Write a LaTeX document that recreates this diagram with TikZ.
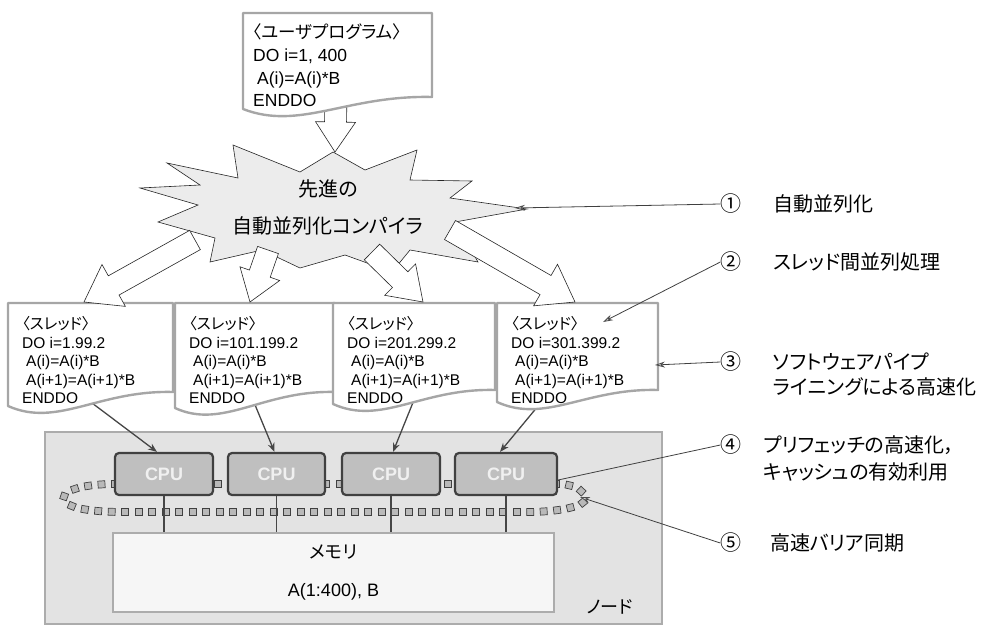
\documentclass[tikz,border=0pt]{standalone}
\usepackage{fontspec}
\setmainfont{Liberation Sans}
\newfontfamily\jp[RawFeature=+palt]{Noto Sans CJK JP}
\usetikzlibrary{arrows.meta,calc,decorations.markings}

\newcommand{\docpath}[5]{%
  \draw[doc] (#1,#3) -- (#2,#3) -- (#2,#5) .. controls ({#1+0.55*(#2-#1)},{#5-2}) and ({#1+0.3*(#2-#1)},{#4+22}) .. (#1,#4) -- cycle;}

\newcommand{\blockarrow}[5]{%
  \coordinate (bah) at ($(#2)!#5!(#1)$);
  \draw[barrow] ($(#1)!#3!90:(#2)$) -- ($(bah)!#3!90:(#2)$) -- ($(bah)!#4!90:(#2)$) -- (#2) -- ($(bah)!#4!-90:(#2)$) -- ($(bah)!#3!-90:(#2)$) -- ($(#1)!#3!-90:(#2)$) -- cycle;}

\newcommand{\threadtext}[3]{%
  \node[code] (#1a) at (#2,329) {\jp〈スレッド〉};
  \node[code] (#1b) at (#2,348) {DO i=#3};
  \node[code] (#1c) at (#2,366.5) {\hspace{4pt}A(i)=A(i)*B};
  \node[code] (#1d) at (#2,385) {\hspace{4pt}A(i+1)=A(i+1)*B};
  \node[code] (#1e) at (#2,403) {ENDDO};}

\begin{document}
\begin{tikzpicture}[x=1pt,y=-1pt,
  doc/.style={draw=gray!70, line width=2.4pt, fill=white, line join=round},
  barrow/.style={draw=black!85, line width=0.6pt, fill=white, line join=miter},
  code/.style={anchor=base west, inner sep=0pt, font=\fontsize{15.5}{18}\selectfont},
  ucode/.style={anchor=base west, inner sep=0pt, font=\fontsize{17.5}{20}\selectfont},
  lbl/.style={anchor=west, inner sep=0pt, font=\jp\fontsize{20}{25}\selectfont},
  num/.style={inner sep=0pt, font=\jp\fontsize{21}{21}\selectfont},
  conn/.style={draw=gray!55!black, line width=1.3pt, -{Stealth[length=9pt,width=7pt,fill=gray!40]}},
  ann/.style={draw=black!75, line width=0.8pt, -{Stealth[length=10pt,width=6pt,fill=gray!35,color=black!70]}},
  plain/.style={draw=black!75, line width=0.8pt},
  cpubox/.style={draw=gray!50!black, line width=2.2pt, fill=gray!50, rounded corners=4pt, minimum height=42pt, inner sep=0pt, font=\fontsize{18}{18}\selectfont\bfseries, text=gray!12},
  membox/.style={draw=gray!65, line width=2pt, fill=gray!7, minimum width=441pt, minimum height=79pt, inner sep=0pt},
  nodebox/.style={draw=gray!65, line width=2.5pt, fill=gray!22, minimum width=617pt, minimum height=192pt, inner sep=0pt},
  vline/.style={draw=gray!55!black, line width=1.3pt},
  ring/.style={decoration={markings, mark=between positions 0 and 0.999 step 13.5pt with {\draw[fill=gray!55, draw=black!75, line width=0.7pt] (-3.5pt,-3.5pt) rectangle (3.5pt,3.5pt);}}, decorate},
  starfill/.style={draw=black!85, line width=0.6pt, fill=gray!15, line join=miter}
]
\useasboundingbox (0,0) rectangle (992,624);

% ---------- node (hardware) ----------
\node[nodebox] (nodebox) at (353.5,528) {};
\path[ring] (115,484) .. controls (85,484) and (62,490) .. (64,499) .. controls (66,508) and (90,512) .. (125,512) -- (525,512) .. controls (565,512) and (588,505) .. (585,497) .. controls (582,488) and (570,484) .. (557,484) -- cycle;
\node[membox] (mem) at (333.5,572.5) {};
\node[font=\jp\fontsize{18}{18}\selectfont] (memt) at (333.5,552) {メモリ};
\node[font=\fontsize{18}{18}\selectfont] (mema) at (333.5,592) {A(1:400), B};
\node[cpubox, minimum width=98pt] (cpu1) at (164,474) {CPU};
\node[cpubox, minimum width=97pt] (cpu2) at (276.5,474) {CPU};
\node[cpubox, minimum width=98pt] (cpu3) at (391,474) {CPU};
\node[cpubox, minimum width=102pt] (cpu4) at (506,474) {CPU};
\foreach \c in {cpu1,cpu2,cpu3,cpu4}{\draw[vline] (\c.south) -- (\c.south |- mem.north);}
\node[font=\jp\fontsize{18}{18}\selectfont] (nodelbl) at (610,607) {ノード};

% ---------- connectors thread -> CPU ----------
\coordinate (t1b) at (88,400);
\coordinate (t2b) at (253,400);
\coordinate (t3b) at (414,400);
\coordinate (t4b) at (548,394);
\draw[conn] (t1b) -- ([xshift=-7pt]cpu1.north);
\draw[conn] (t2b) -- ([xshift=-2pt]cpu2.north);
\draw[conn] (t3b) -- ([xshift=2pt]cpu3.north);
\draw[conn] (t4b) -- ([xshift=-6pt]cpu4.north);

% ---------- thread documents ----------
\docpath{8}{173}{303}{406}{392}
\threadtext{ta}{22}{1.99.2}
\docpath{175}{335}{303}{408}{392}
\threadtext{tb}{189}{101.199.2}
\docpath{333}{495}{303}{404}{390}
\threadtext{tc}{347}{201.299.2}
\docpath{497}{658}{303}{402}{390}
\threadtext{td}{511}{301.399.2}

% ---------- compiler star ----------
\draw[starfill] (167,163) -- (238,178) -- (233,145) -- (300,172) -- (333,152) -- (365,170) -- (417,150) -- (410,180) -- (472,181) -- (450,198) -- (527,209) -- (455,222) -- (478,262) -- (410,250) -- (392,272) -- (345,255) -- (300,268) -- (262,250) -- (210,262) -- (215,238) -- (158,222) -- (198,205) -- (140,188) -- (200,185) -- cycle;
\node[align=center, font=\jp\fontsize{20}{37}\selectfont, inner sep=0pt] (comp) at (328,207) {先進の\\自動並列化コンパイラ};
\coordinate (starR) at (515,208);
\coordinate (startop) at (335,152);

% block arrows star -> threads
\coordinate (a1s) at (195,240); \coordinate (a1e) at (84,302);
\coordinate (a2s) at (268,250); \coordinate (a2e) at (250,302);
\coordinate (a3s) at (372,252); \coordinate (a3e) at (423,302);
\coordinate (a4s) at (450,230); \coordinate (a4e) at (575,302);
\blockarrow{a1s}{a1e}{11pt}{24pt}{34pt}
\blockarrow{a2s}{a2e}{11pt}{21pt}{30pt}
\blockarrow{a3s}{a3e}{11pt}{22pt}{32pt}
\blockarrow{a4s}{a4e}{11pt}{24pt}{34pt}

% ---------- user program ----------
\coordinate (docbot) at (336,95);
\blockarrow{docbot}{startop}{11pt}{20pt}{30pt}
\docpath{243}{432}{13}{109}{97}
\node[ucode] (u1) at (253,38) {\jp〈ユーザプログラム〉};
\node[ucode] (u2) at (253,61) {DO i=1, 400};
\node[ucode] (u3) at (253,84) {\hspace{4pt}A(i)=A(i)*B};
\node[ucode] (u4) at (253,106) {ENDDO};

% ---------- annotations ----------
\coordinate (tdR) at (655,365);
\coordinate (tdH) at (603,322);
\node[num] (n1) at (731,204) {①};
\node[lbl] (l1) at (773,204) {自動並列化};
\draw[ann] (n1.west) -- (starR);

\node[num] (n2) at (731,262) {②};
\node[lbl] (l2) at (773,262) {スレッド間並列処理};
\draw[ann] (n2.west) -- (tdH);

\node[num] (n3) at (731,362) {③};
\node[lbl] (l3a) at (773,362) {ソフトウェアパイプ};
\node[lbl] (l3b) at (773,387) {ライニングによる高速化};
\draw[ann] (n3.west) -- (tdR);

\node[num] (n4) at (731,445) {④};
\node[lbl] (l4a) at (763,445) {プリフェッチの高速化，};
\node[lbl] (l4b) at (763,472) {キャッシュの有効利用};
\draw[plain] (n4.west) -- ([yshift=-6pt]cpu4.east);

\node[num] (n5) at (731,543) {⑤};
\node[lbl] (l5) at (770,543) {高速バリア同期};
\coordinate (barrier) at (580,497);
\draw[ann] (n5.west) -- (barrier);
\end{tikzpicture}
\end{document}
